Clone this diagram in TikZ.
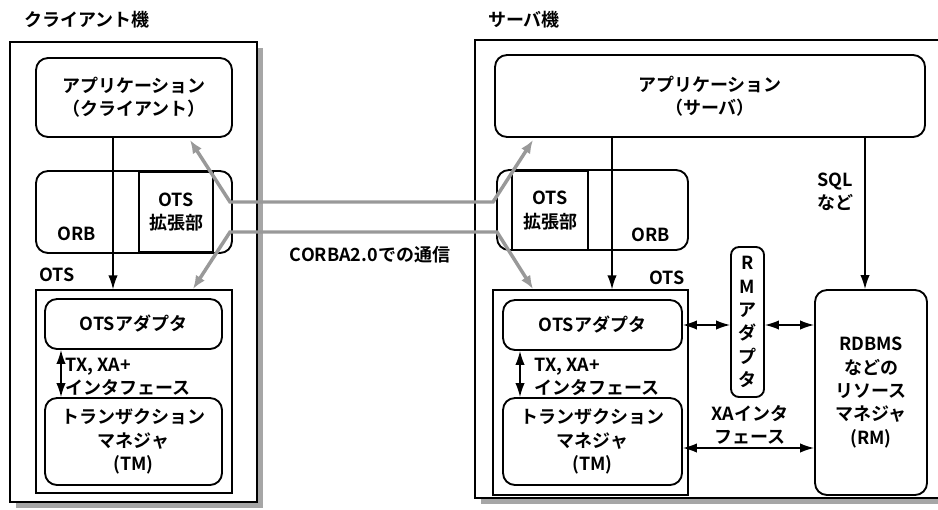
\documentclass[tikz,border=0pt]{standalone}
\usepackage{fontspec}
\setmainfont{Noto Sans CJK JP}[BoldFont={Noto Sans CJK JP Bold}]
\usetikzlibrary{arrows.meta, positioning, shadows}
\tikzstyle{machine} = [draw, line width=1.2pt, fill=white, inner sep=0pt, drop shadow={shadow xshift=4.5pt, shadow yshift=-4.5pt, fill=black!35, opacity=1}]
\tikzstyle{box} = [draw, line width=1.4pt, rounded corners=9pt, fill=white, align=center, inner sep=0pt]
\tikzstyle{extbox} = [draw, line width=2.2pt, fill=white, align=center, inner sep=0pt]
\tikzstyle{otsframe} = [draw, line width=1pt, inner sep=0pt]
\tikzstyle{txt} = [inner sep=0pt, align=center]
\tikzstyle{arrow} = [line width=1pt, -{Latex[length=10.5pt,width=7pt]}]
\tikzstyle{darrow} = [line width=1pt, {Latex[length=10.5pt,width=7pt]}-{Latex[length=10.5pt,width=7pt]}]
\tikzstyle{corba} = [line width=2.6pt, draw=black!40, {Latex[length=10pt,width=8pt]}-{Latex[length=10pt,width=8pt]}]

\begin{document}
\begin{tikzpicture}[x=0.75pt, y=-0.75pt, font=\bfseries\fontsize{13.5}{17.5}\selectfont]
    \useasboundingbox (0,0) rectangle (938,510);
    \clip (0,0) rectangle (938,510);

    % Client machine
    \node (cmach) [machine, minimum width=185.25pt, minimum height=345pt] at (133.5,272) {};
    \node (ctitle) [txt] at (87,20) {クライアント機};
    \node (capp) [box, minimum width=147pt, minimum height=59.25pt] at (134,97.5) {アプリケーション\\（クライアント）};
    \node (corb) [box, minimum width=147pt, minimum height=61.5pt] at (134,212) {};
    \node (cext) [extbox, minimum width=55.5pt, minimum height=60pt] at (176,212) {OTS\\拡張部};
    \node (corbtxt) [txt] at (77,234) {ORB};
    \node (cots) [otsframe, minimum width=147pt, minimum height=152.25pt] at (134,391.5) {};
    \node (cotstxt) [txt] at (57,275) {OTS};
    \node (cada) [box, minimum width=132.75pt, minimum height=37.5pt] at (133.5,324) {OTSアダプタ};
    \node (ctm) [box, minimum width=132.75pt, minimum height=65.25pt] at (133.5,441.5) {トランザクション\\マネジャ\\(TM)};
    \node (ctx) [txt, anchor=west, align=left] at (65,377) {TX, XA+\\インタフェース};

    % Server machine
    \node (smach) [machine, minimum width=352.5pt, minimum height=343.5pt] at (710,269) {};
    \node (stitle) [txt] at (524,20) {サーバ機};
    \node (sapp) [box, minimum width=322.5pt, minimum height=61.5pt] at (710,96) {アプリケーション\\（サーバ）};
    \node (sorb) [box, minimum width=143.25pt, minimum height=60pt] at (592.5,210) {};
    \node (sext) [extbox, minimum width=57pt, minimum height=59.25pt] at (550,210.5) {OTS\\拡張部};
    \node (sorbtxt) [txt] at (651,235) {ORB};
    \node (sots) [otsframe, minimum width=146.25pt, minimum height=153.75pt] at (590.5,392.5) {};
    \node (sotstxt) [txt] at (667,278) {OTS};
    \node (sada) [box, minimum width=134.25pt, minimum height=37.5pt] at (592.5,325) {OTSアダプタ};
    \node (stm) [box, minimum width=134.25pt, minimum height=65.25pt] at (592.5,441.5) {トランザクション\\マネジャ\\(TM)};
    \node (stx) [txt, anchor=west, align=left] at (534,377) {TX, XA+\\インタフェース};
    \node (rmada) [box, rounded corners=6pt, minimum width=24.75pt, minimum height=112.5pt] at (747.5,322) {R\\M\\ア\\ダ\\プ\\タ};
    \node (rdbms) [box, minimum width=84pt, minimum height=153.75pt] at (871,392.5) {RDBMS\\などの\\リソース\\マネジャ\\(RM)};
    \node (sqltxt) [txt] at (835,192) {SQL\\など};
    \node (xatxt) [txt] at (750,425) {XAインタ\\フェース};
    \node (corbatxt) [txt] at (370,255) {CORBA2.0での通信};

    % Helper points
    \coordinate (cx1) at (113,0);
    \coordinate (cx2) at (61,0);
    \coordinate (sx1) at (612,0);
    \coordinate (sx2) at (520,0);
    \coordinate (sqlx) at (865,0);
    \coordinate (xay) at (0,448);
    \coordinate (cuptip) at (190,140);
    \coordinate (suptip) at (533,140);
    \coordinate (clowtip) at (193,289);
    \coordinate (slowtip) at (533,289);

    % Arrows
    \draw [arrow] (capp.south -| cx1) -- (cots.north -| cx1);
    \draw [darrow] (cada.south -| cx2) -- (ctm.north -| cx2);
    \draw [arrow] (sapp.south -| sx1) -- (sots.north -| sx1);
    \draw [darrow] (sada.south -| sx2) -- (stm.north -| sx2);
    \draw [arrow] (sapp.south -| sqlx) -- (rdbms.north -| sqlx);
    \draw [darrow] (sada.east) -- (sada.east -| rmada.west);
    \draw [darrow] (sada.east -| rmada.east) -- (sada.east -| rdbms.west);
    \draw [darrow] (stm.east |- xay) -- (rdbms.west |- xay);

    % CORBA communication
    \draw [corba] (cuptip) -- (230,202) -- (493,202) -- (suptip);
    \draw [corba] (clowtip) -- (230,232) -- (497,232) -- (slowtip);
\end{tikzpicture}
\end{document}
